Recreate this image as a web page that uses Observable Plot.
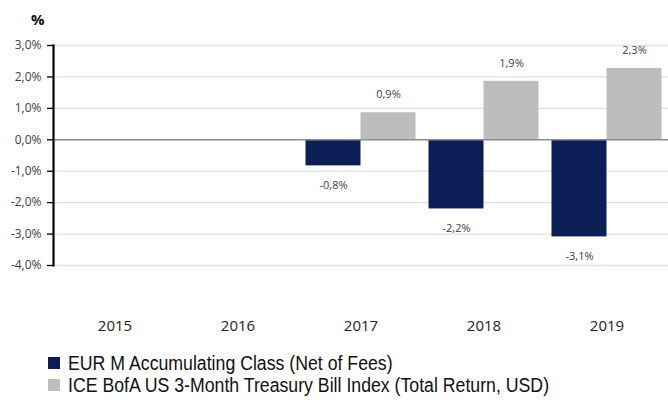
<!DOCTYPE html>
<html>
<head>
<meta charset="utf-8">
<script src="https://cdn.jsdelivr.net/npm/d3@7"></script>
<script src="https://cdn.jsdelivr.net/npm/@observablehq/plot@0.6"></script>
<style>
  html, body { margin: 0; padding: 0; background: #fff; }
  #wrap { position: relative; width: 668px; height: 403px; overflow: hidden; font-family: "Open Sans", sans-serif; }
  #chart { position: absolute; left: 0; top: 0; }
  #unit { position: absolute; left: 31px; top: 9px; font: bold 15px "Open Sans", sans-serif; color: #111; }
  #legend { position: absolute; left: 48px; top: 352px; font-family: "Liberation Sans", sans-serif; font-size: 20px; color: #111; line-height: 22px; }
  .li { display: flex; align-items: center; white-space: nowrap; }
  .sw { width: 12px; height: 12px; display: inline-block; margin-right: 8px; flex: none; }
  .tx { display: inline-block; transform: scaleX(0.885); transform-origin: left center; }
</style>
</head>
<body>
<div id="wrap">
  <div id="chart"></div>
  <div id="unit">%</div>
  <div id="legend"></div>
</div>
<script>
const years = ["2015", "2016", "2017", "2018", "2019"];
const seriesNames = ["EUR M Accumulating Class (Net of Fees)", "ICE BofA US 3-Month Treasury Bill Index (Total Return, USD)"];
const seriesColors = ["#0b1e55", "#bdbdbd"];
const eurValues = [null, null, -0.83, -2.2, -3.09];
const iceValues = [null, null, 0.86, 1.86, 2.27];
const eurLabels = [null, null, "-0,8%", "-2,2%", "-3,1%"];
const iceLabels = [null, null, "0,9%", "1,9%", "2,3%"];
const yTicks = [3, 2, 1, 0, -1, -2, -3, -4];

const eur = years.map((y, i) => ({year: y, value: eurValues[i], label: eurLabels[i]})).filter(d => d.value != null);
const ice = years.map((y, i) => ({year: y, value: iceValues[i], label: iceLabels[i]})).filter(d => d.value != null);

const fmt = d => d.toFixed(1).replace(".", ",") + "%";

const chart = Plot.plot({
  width: 668,
  height: 345,
  marginTop: 45,
  marginBottom: 80,
  marginLeft: 53,
  marginRight: 0,
  style: {fontFamily: "Open Sans, sans-serif", background: "transparent", overflow: "visible"},
  x: {domain: years, paddingInner: 0, paddingOuter: 0, label: null},
  y: {domain: [-4, 3], label: null},
  marks: [
    Plot.gridY(yTicks.filter(d => d !== 0), {stroke: "#d9e3f0", strokeOpacity: 1, strokeWidth: 1.3}),
    Plot.barY(eur, {x: "year", y: "value", fill: seriesColors[0], insetLeft: 6.5, insetRight: 61.5}),
    Plot.barY(ice, {x: "year", y: "value", fill: seriesColors[1], insetLeft: 61.5, insetRight: 6.5}),
    Plot.ruleY([0], {stroke: "#8c8c8c", strokeWidth: 1.5}),
    Plot.text(eur, {x: "year", y: "value", text: "label", dx: -27.5, dy: 20, fontSize: 11, fill: "#404040"}),
    Plot.text(ice, {x: "year", y: "value", text: "label", dx: 27.5, dy: -18, fontSize: 11, fill: "#404040"}),
    Plot.axisY({ticks: yTicks, tickFormat: fmt, tickSize: 6, tickPadding: 6, fontSize: 12, color: "#404040", stroke: "#000", strokeWidth: 1.3}),
    Plot.frame({anchor: "left", stroke: "#000", strokeWidth: 2.2}),
    Plot.axisX({tickSize: 0, tickPadding: 55, fontSize: 15, color: "#222"})
  ]
});
document.getElementById("chart").appendChild(chart);

const leg = document.getElementById("legend");
seriesNames.forEach((n, i) => {
  const row = document.createElement("div");
  row.className = "li";
  row.innerHTML = `<span class="sw" style="background:${seriesColors[i]}"></span><span class="tx">${n}</span>`;
  leg.appendChild(row);
});
</script>
</body>
</html>
